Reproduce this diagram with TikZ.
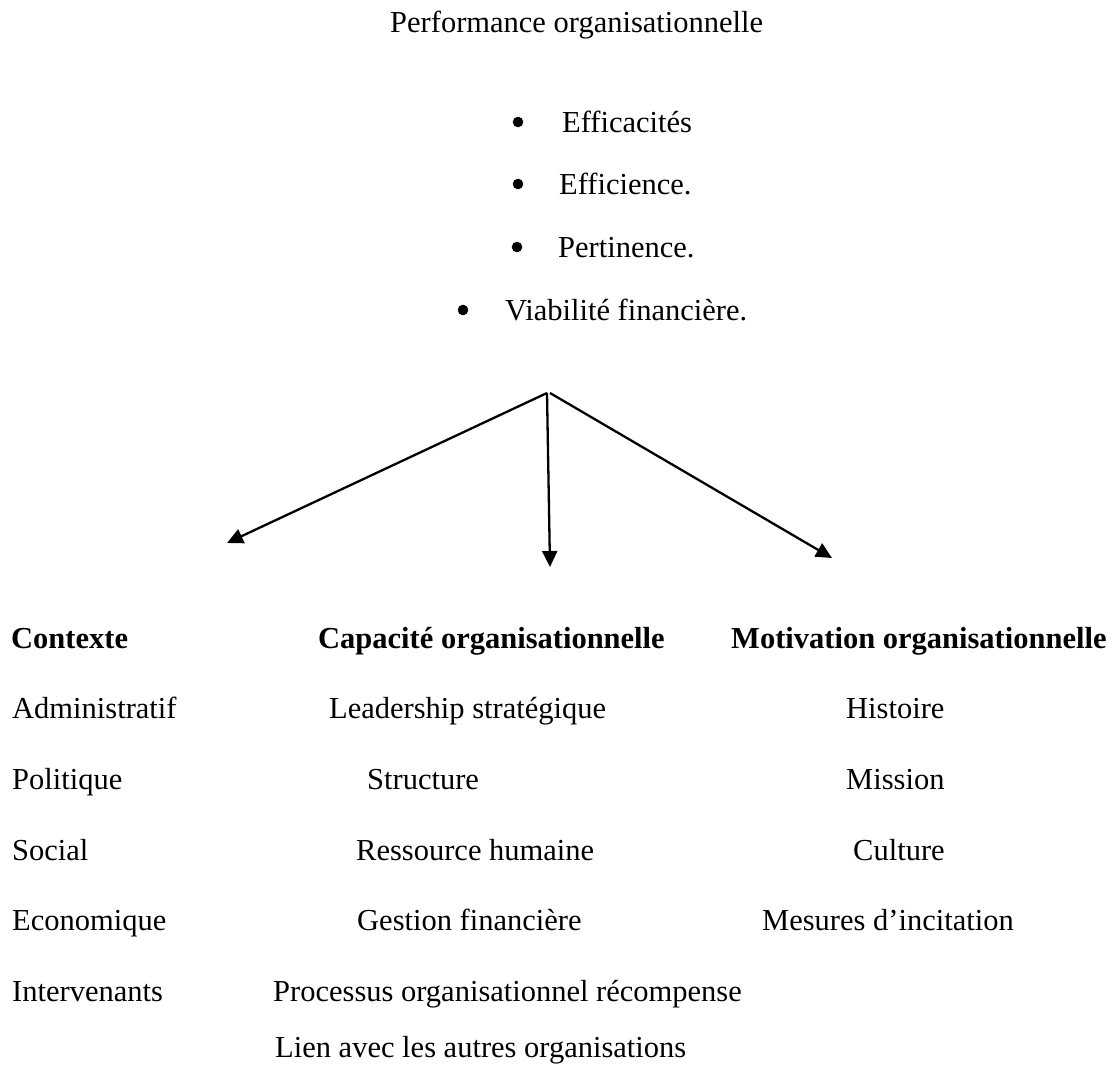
\documentclass[tikz,border=0pt]{standalone}
\usepackage{fontspec}
\setmainfont{Liberation Serif}
\usetikzlibrary{arrows.meta}
\begin{document}
\begin{tikzpicture}[x=1pt,y=-1pt,
  txt/.style={anchor=base west,inner sep=0pt,font=\fontsize{30.5}{36}\selectfont},
  head/.style={txt,font=\fontsize{30.5}{36}\selectfont\bfseries},
  bul/.style={circle,fill=black,draw=black,line width=0.5pt,inner sep=0pt,minimum size=10pt},
  arr/.style={line width=2.3pt,-{Triangle[length=16pt,width=15pt]}}]
\useasboundingbox (0,0) rectangle (1113,1079);
% title and bullet list
\node[txt] (title) at (390,32) {Performance organisationnelle};
\node[bul] (b1) at (518,122) {};
\node[txt] (t1) at (562,132) {Efficacités};
\node[bul] (b2) at (518,184) {};
\node[txt] (t2) at (559,194) {Efficience.};
\node[bul] (b3) at (517,247) {};
\node[txt] (t3) at (558,257) {Pertinence.};
\node[bul] (b4) at (463,310) {};
\node[txt] (t4) at (505,320) {Viabilité financière.};
% arrows
\coordinate (apexL) at (547,393);
\coordinate (apexR) at (550,393);
\coordinate (tipL) at (227,543);
\coordinate (tipM) at (550,567);
\coordinate (tipR) at (832,558);
\draw[arr] (apexL) -- (tipL);
\draw[arr] (apexL) -- (tipM);
\draw[arr] (apexR) -- (tipR);
% column headers
\node[head] (h1) at (11,648) {Contexte};
\node[head] (h2) at (318,648) {Capacité organisationnelle};
\node[head] (h3) at (731,648) {Motivation organisationnelle};
% first column
\node[txt] (c1a) at (12,718) {Administratif};
\node[txt] (c1b) at (12,789) {Politique};
\node[txt] (c1c) at (12,860) {Social};
\node[txt] (c1d) at (12,930) {Economique};
\node[txt] (c1e) at (12,1001) {Intervenants};
% second column
\node[txt] (c2a) at (329,718) {Leadership stratégique};
\node[txt] (c2b) at (367,789) {Structure};
\node[txt] (c2c) at (356,860) {Ressource humaine};
\node[txt] (c2d) at (357,930) {Gestion financière};
\node[txt] (c2e) at (273,1001) {Processus organisationnel récompense};
\node[txt] (c2f) at (275,1057) {Lien avec les autres organisations};
% third column
\node[txt] (c3a) at (846,718) {Histoire};
\node[txt] (c3b) at (846,789) {Mission};
\node[txt] (c3c) at (853,860) {Culture};
\node[txt] (c3d) at (762,930) {Mesures d’incitation};
\end{tikzpicture}
\end{document}
